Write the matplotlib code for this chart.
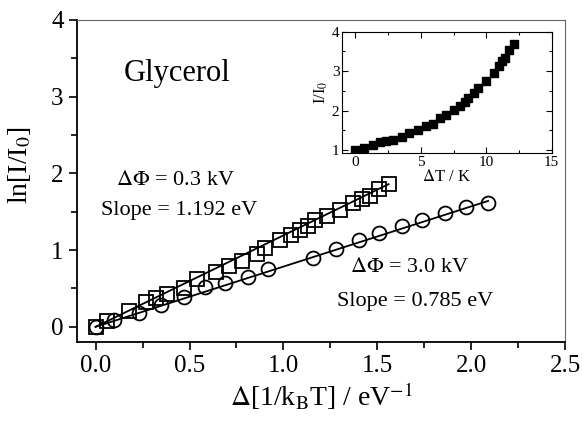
import numpy as np
import matplotlib.pyplot as plt
from matplotlib.ticker import MultipleLocator

# main panel: ln[I/I0] vs delta(1/kT)
sq_x = [0.0, 0.06, 0.18, 0.27, 0.32, 0.38, 0.47, 0.54, 0.64, 0.71, 0.78, 0.86,
        0.90, 0.98, 1.04, 1.09, 1.13, 1.17, 1.23, 1.30, 1.37, 1.42, 1.46, 1.51, 1.56]
sq_y = [0.0, 0.08, 0.20, 0.32, 0.37, 0.43, 0.51, 0.62, 0.71, 0.79, 0.86, 0.95,
        1.03, 1.13, 1.20, 1.26, 1.31, 1.39, 1.44, 1.52, 1.61, 1.66, 1.71, 1.79, 1.86]
ci_x = [0.0, 0.10, 0.23, 0.35, 0.47, 0.58, 0.69, 0.81, 0.92, 1.16, 1.28, 1.40,
        1.51, 1.63, 1.74, 1.86, 1.97, 2.09]
ci_y = [0.0, 0.09, 0.18, 0.28, 0.39, 0.52, 0.57, 0.65, 0.76, 0.90, 1.02, 1.13,
        1.22, 1.32, 1.39, 1.48, 1.56, 1.62]
slope_sq = 1.192
slope_ci = 0.785

# inset: I/I0 vs delta T
dT = [0.0, 0.66, 1.35, 1.9, 2.36, 2.85, 3.56, 4.1, 4.78, 5.36, 5.97, 6.48, 6.9,
      7.5, 8.0, 8.34, 8.64, 9.03, 9.4, 9.97, 10.58, 10.98, 11.19, 11.44, 11.7, 12.13]
ratio = [1.0, 1.06, 1.12, 1.19, 1.23, 1.26, 1.33, 1.42, 1.5, 1.6, 1.67, 1.8, 1.89,
         2.01, 2.12, 2.22, 2.31, 2.44, 2.58, 2.76, 2.95, 3.13, 3.26, 3.34, 3.53, 3.7]

plt.rcParams['font.family'] = ['Liberation Serif', 'DejaVu Serif']
plt.rcParams['mathtext.fontset'] = 'stix'

fig = plt.figure(figsize=(5.82, 4.24), dpi=100)
ax = fig.add_axes([0.132, 0.193, 0.839, 0.760])

fx = np.array([0, sq_x[-1]])
ax.plot(fx, slope_sq * fx, color='black', lw=1.3)
fx2 = np.array([0, ci_x[-1]])
ax.plot(fx2, slope_ci * fx2, color='black', lw=1.3)
ax.plot(sq_x, sq_y, 's', ms=9.5, mfc='none', mec='black', mew=1.3)
ax.plot(ci_x, ci_y, 'o', ms=10, mfc='none', mec='black', mew=1.3)

ax.set_xlim(-0.1, 2.5)
ax.set_ylim(-0.2, 4.0)
ax.xaxis.set_major_locator(MultipleLocator(0.5))
ax.xaxis.set_minor_locator(MultipleLocator(0.25))
ax.yaxis.set_major_locator(MultipleLocator(1))
ax.yaxis.set_minor_locator(MultipleLocator(0.5))
ax.xaxis.set_major_formatter(plt.FormatStrFormatter('%.1f'))
ax.tick_params(which='both', direction='out', top=False, right=False, labelsize=18, width=1.2)
ax.tick_params(which='major', length=6)
ax.tick_params(which='minor', length=4)
for s in ['left', 'bottom']:
    ax.spines[s].set_linewidth(1.3)
for s in ['top', 'right']:
    ax.spines[s].set_linewidth(0.8)
    ax.spines[s].set_color('#666666')

ax.set_xlabel(r'$\Delta$[1/k$_\mathrm{B}$T] / eV$^{-1}$', fontsize=20, labelpad=2)
ax.set_ylabel(r'ln[I/I$_0$]', fontsize=20)
ax.yaxis.set_label_coords(-0.09, 0.55)

ax.text(0.15, 3.3, 'Glycerol', fontsize=22, va='center', ha='left')
ax.text(0.11, 1.91, r'$\Delta\Phi$ = 0.3 kV', fontsize=16, va='center', ha='left')
ax.text(0.03, 1.52, 'Slope = 1.192 eV', fontsize=16, va='center', ha='left')
ax.text(1.67, 0.77, r'$\Delta\Phi$ = 3.0 kV', fontsize=16, va='center', ha='center')
ax.text(1.70, 0.33, 'Slope = 0.785 eV', fontsize=16, va='center', ha='center')

ins = fig.add_axes([0.588, 0.639, 0.360, 0.286])
ins.plot(dT, ratio, 's', ms=6, color='black')
ins.set_xlim(-1, 15)
ins.set_ylim(0.92, 4.0)
ins.xaxis.set_major_locator(MultipleLocator(5))
ins.xaxis.set_minor_locator(MultipleLocator(2.5))
ins.yaxis.set_major_locator(MultipleLocator(1))
ins.yaxis.set_minor_locator(MultipleLocator(0.5))
ins.tick_params(which='both', direction='in', top=True, right=True, labelsize=11, width=0.8, pad=2)
ins.tick_params(which='major', length=4)
ins.tick_params(which='minor', length=2.5)
ins.set_xlabel(r'$\Delta$T / K', fontsize=12, labelpad=0)
ins.set_ylabel(r'I/I$_0$', fontsize=12, labelpad=1)

fig.savefig('out.png', dpi=100)
